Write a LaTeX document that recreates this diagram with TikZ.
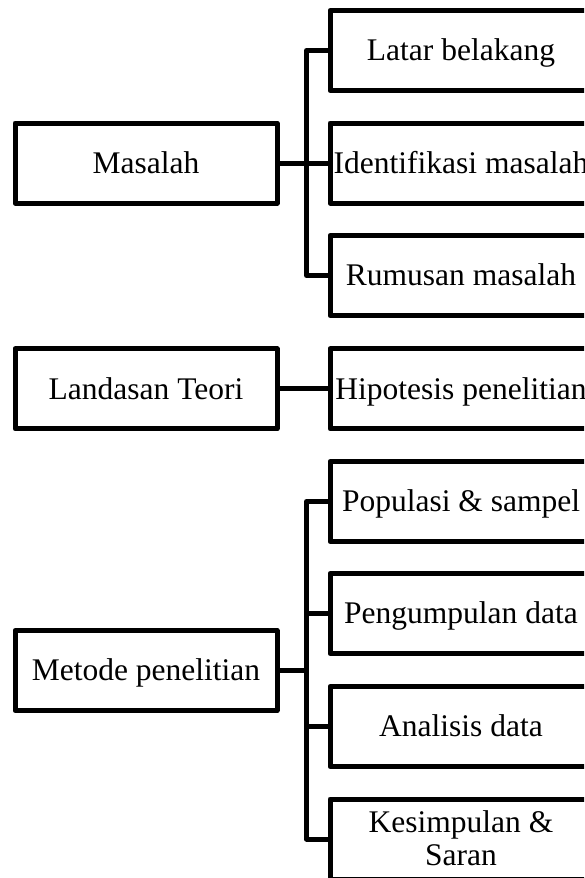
\documentclass[tikz,border=0pt]{standalone}
\usepackage{fontspec}
\setmainfont{Liberation Serif}
\begin{document}
\begin{tikzpicture}[x=1pt,y=-1pt,
  box/.style={draw, line width=5pt, line join=round, minimum width=262pt,
    minimum height=80pt, inner sep=0pt, text height=20.8pt, text depth=0pt,
    font=\fontsize{31.5}{33}\selectfont},
  link/.style={line width=5pt, line join=round}]
\useasboundingbox (0,0) rectangle (584,878);
\clip (0,0) rectangle (584,878);
% left boxes
\node[box] (m) at (146,163) {Masalah};
\node[box] (l) at (146,388.8) {Landasan Teori};
\node[box] (p) at (146,670.5) {Metode penelitian};
% right boxes
\node[box] (r1) at (461,50.5) {Latar belakang};
\node[box] (r2) at (461,163) {Identifikasi masalah};
\node[box] (r3) at (461,275.5) {Rumusan masalah};
\node[box] (r4) at (461,388.8) {Hipotesis penelitian};
\node[box] (r5) at (461,501.5) {Populasi \& sampel};
\node[box] (r6) at (461,613.5) {Pengumpulan data};
\node[box] (r7) at (461,726.5) {Analisis data};
\node[box, align=center, text height=53.8pt] (r8) at (461,839) {Kesimpulan \&\\ Saran};
% connectors
\foreach \c in {r1,r2,r3}
  \draw[link] (m.east) -- ++(27,0) |- (\c.west);
\draw[link] (l.east) -- (r4.west);
\foreach \c in {r5,r6,r7,r8}
  \draw[link] (p.east) -- ++(27,0) |- (\c.west);
\end{tikzpicture}
\end{document}
